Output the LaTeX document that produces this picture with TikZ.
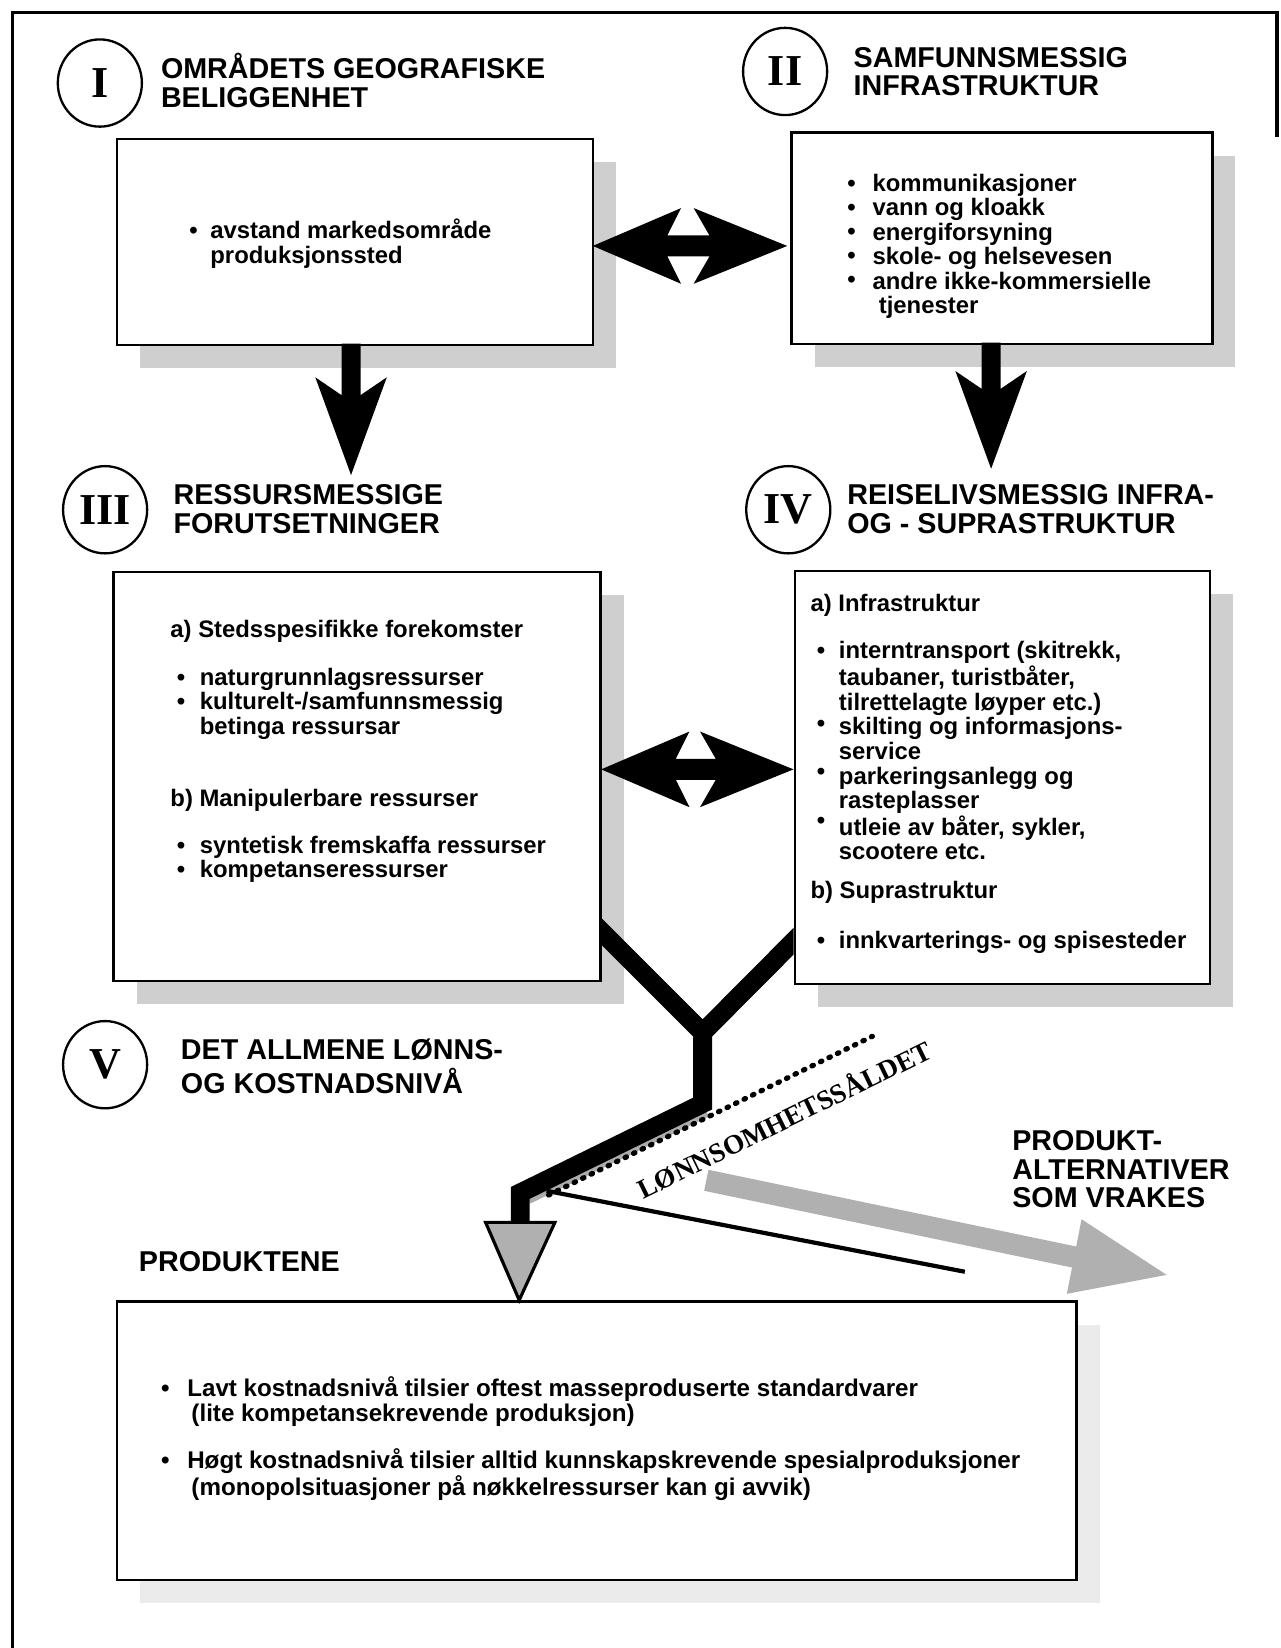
\documentclass[tikz,border=0pt]{standalone}
\usepackage{fontspec}
\setmainfont{Liberation Sans}
\newfontfamily\numserif{Liberation Serif}
\usetikzlibrary{shapes.geometric,shadows,calc}
% multi-line text whose baseline is that of its first line
\newcommand\mytab[1]{\begin{tabular}[t]{@{}l@{}}#1\end{tabular}}
% down arrow: #1 = top coordinate, #2 = length to tip
\newcommand\myDownArrow[2]{%
  \fill ($(#1)+(-9,0)$) -- ($(#1)+(9,0)$) -- ($(#1)+(9,#2-76)$) -- ($(#1)+(34,#2-93)$)
    -- ($(#1)+(0,#2)$) -- ($(#1)+(-34,#2-93)$) -- ($(#1)+(-9,#2-76)$) -- cycle;}
% double arrow: #1 = left tip, #2 = right tip
\newcommand\myDblArrow[2]{%
  \fill (#1) -- ($(#1)+(84,-36)$) -- ($(#1)+(71,-10)$) -- ($(#2)+(-74,-10)$) -- ($(#2)+(-89,-36)$)
    -- (#2) -- ($(#2)+(-89,36)$) -- ($(#2)+(-74,10)$) -- ($(#1)+(71,10)$) -- ($(#1)+(84,36)$) -- cycle;}
\begin{document}
\begin{tikzpicture}[x=1pt,y=-1pt,
  box/.style={draw, line width=2.6pt, fill=white, anchor=north west, inner sep=0pt,
    drop shadow={shadow xshift=22pt, shadow yshift=-22pt, fill=gray!38, opacity=1}},
  boxp/.style={box, drop shadow={shadow xshift=22pt, shadow yshift=-22pt, fill=gray!16, opacity=1}},
  numc/.style={draw, ellipse, line width=2.2pt, minimum width=80pt, minimum height=83pt, inner sep=0pt,
    font=\numserif\bfseries\fontsize{42}{42}\selectfont},
  head/.style={anchor=base west, inner sep=0pt, font=\bfseries\fontsize{27.3}{27}\selectfont},
  txt/.style={anchor=base west, inner sep=0pt, font=\bfseries\fontsize{22.7}{23}\selectfont},
  txtp/.style={anchor=base west, inner sep=0pt, font=\bfseries\fontsize{23}{23}\selectfont},
  heavy/.style={line width=18pt, line join=miter},
  sieve/.style={line width=5pt, line cap=round, dash pattern=on 1.5pt off 7.5pt}
]
\useasboundingbox (0,0) rectangle (1218,1568);
% frame
\draw[line width=3pt] (12,1568) -- (12,12) -- (1215,12) -- (1215,130);

% boxes
\node[box, minimum width=453pt, minimum height=196pt] (b1) at (110,131) {};
\node[box, minimum width=400pt, minimum height=201pt] (b2) at (752,125) {};
\node[box, minimum width=463pt, minimum height=389pt] (b3) at (107,543) {};
\node[box, minimum width=395pt, minimum height=393pt] (b4) at (755,542) {};
\node[boxp, minimum width=913pt, minimum height=265pt] (b5) at (110,1237) {};

% circles with numerals
\node[numc] (c1) at (95,79) {I};
\node[numc] (c2) at (747,68) {II};
\node[numc] (c3) at (100,485) {III};
\node[numc] (c4) at (750,485) {IV};
\node[numc] (c5) at (100,1013) {V};

% headings
\node[head] (h1) at (153,75) {\mytab{OMRÅDETS GEOGRAFISKE\\BELIGGENHET}};
\node[head] (h2) at (812,64) {\mytab{SAMFUNNSMESSIG\\INFRASTRUKTUR}};
\node[head] (h3) at (165,480) {\mytab{RESSURSMESSIGE\\FORUTSETNINGER}};
\node[head] (h4) at (806,480) {\mytab{REISELIVSMESSIG INFRA-\\OG - SUPRASTRUKTUR}};
\node[head] (h5) at (172,1008) {\mytab{DET ALLMENE LØNNS-\\OG KOSTNADSNIVÅ}};
\node[head] (h6) at (963,1095) {\mytab{PRODUKT-\\ALTERNATIVER\\SOM VRAKES}};
\node[head] (h7) at (132,1210) {PRODUKTENE};

% connector coordinates
\coordinate (a1) at (334,327);
\coordinate (a2) at (943,326);
\coordinate (d1l) at (564,234);
\coordinate (d1r) at (749,234);
\coordinate (d2l) at (572,732);
\coordinate (d2r) at (755,732);
\coordinate (yl) at (560,874);
\coordinate (yr) at (765,885.5);
\coordinate (yj) at (668.5,982.5);
\coordinate (ys) at (668.5,975);
\coordinate (yb) at (668.5,1050);
\coordinate (yk) at (495,1135);
\coordinate (yt) at (495,1165);
\coordinate (tl) at (462,1163);
\coordinate (tr) at (528,1163);
\coordinate (tip) at (494,1237);

% down arrows and double arrows
\myDownArrow{a1}{125}
\myDownArrow{a2}{120}
\myDblArrow{d1l}{d1r}
\myDblArrow{d2l}{d2r}

% Y-shaped connector
\begin{scope}
  \clip (570,0) rectangle (755,1568);
  \draw[heavy] (yl) -- (yj) -- (yr);
\end{scope}
\draw[gray!65, line width=7pt] (673,1059) -- (503,1142);
\draw[heavy] (ys) -- (yb) -- (yk) -- (yt);

% profitability sieve (dotted line and label)
\coordinate (s1) at (522,1137);
\coordinate (s2) at (830,986);
\draw[sieve] (s1) -- (s2);
\node[rotate=26, inner sep=0pt, font=\numserif\bfseries\fontsize{26}{26}\selectfont] (sv) at (746,1064) {LØNNSOMHETSSÅLDET};

% thin line
\coordinate (l1) at (520,1133);
\coordinate (l2) at (918,1210);
\draw[line width=4pt] (l1) -- (l2);

% grey rejection arrow
\fill[gray!62] (674,1113) -- (1024,1186) -- (1029,1160) -- (1110,1213) -- (1015,1231) -- (1020,1206) -- (670,1133) -- cycle;

% arrowhead into products
\filldraw[fill=gray!62, draw=black, line width=3pt, line join=miter] (tl) -- (tr) -- (tip) -- cycle;

% box I text
\node[txt] at (180,227) {•};
\node[txt] (t1) at (200,227) {\mytab{avstand markedsområde\\produksjonssted}};

% box II text
\foreach \yy in {182,205,228,251,274} \node[txt] at (806,\yy) {•};
\node[txt] (t2) at (830,182) {\mytab{kommunikasjoner\\vann og kloakk\\energiforsyning\\skole- og helsevesen\\andre ikke-kommersielle\\\hspace*{6pt}tjenester}};

% box III text
\node[txt] at (162,607) {a) Stedsspesifikke forekomster};
\foreach \yy in {652,675,812,835} \node[txt] at (168,\yy) {•};
\node[txt] at (190,652) {\mytab{naturgrunnlagsressurser\\kulturelt-/samfunnsmessig\\betinga ressursar}};
\node[txt] at (162,767) {b) Manipulerbare ressurser};
\node[txt] at (190,812) {\mytab{syntetisk fremskaffa ressurser\\kompetanseressurser}};

% box IV text
\node[txt] at (771,582) {a) Infrastruktur};
\foreach \yy in {627,696,742,788,902} \node[txt] at (777,\yy) {•};
\node[txt] at (798,627) {\mytab{interntransport (skitrekk,\\taubaner, turistbåter,\\tilrettelagte løyper etc.)\\skilting og informasjons-\\service\\parkeringsanlegg og\\rasteplasser\\utleie av båter, sykler,\\scootere etc.}};
\node[txt] at (771,855) {b) Suprastruktur};
\node[txt] at (798,902) {innkvarterings- og spisesteder};

% products box text
\node[txtp] at (153,1329) {•};
\node[txtp] at (153,1397) {•};
\node[txtp] at (178,1329) {\mytab{Lavt kostnadsnivå tilsier oftest masseproduserte standardvarer\\\hspace*{4pt}(lite kompetansekrevende produksjon)}};
\node[txtp] at (178,1397) {\mytab{Høgt kostnadsnivå tilsier alltid kunnskapskrevende spesialproduksjoner\\\hspace*{4pt}(monopolsituasjoner på nøkkelressurser kan gi avvik)}};
\end{tikzpicture}
\end{document}
